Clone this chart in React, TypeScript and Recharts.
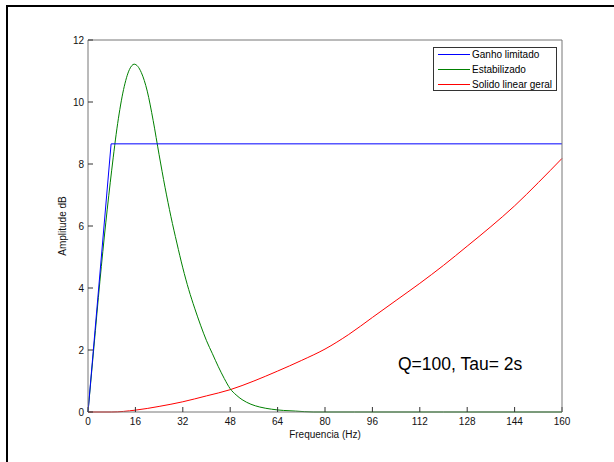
import React from 'react';
import { LineChart, Line, XAxis, YAxis, Legend } from 'recharts';

// eixo de frequência (Hz) e amplitude (dB)
const xTicks = [0, 16, 32, 48, 64, 80, 96, 112, 128, 144, 160];
const yTicks = [0, 2, 4, 6, 8, 10, 12];

// Ganho limitado
const ganhoFreq = [0, 7.8, 160];
const ganhoAmp = [0, 8.65, 8.65];

// Estabilizado
const estabFreq = [
  0, 2, 4, 6, 8, 10, 12, 14, 15.6, 18, 20, 22, 24, 26, 28, 30, 32, 34, 36, 38, 40,
  42, 44, 46, 48, 50, 52, 55, 58, 62, 66, 70, 76, 90, 120, 160,
];
const estabAmp = [
  0, 2.1, 4.2, 6.1, 7.8, 9.3, 10.4, 11.05, 11.22, 10.95, 10.35, 9.4, 8.3, 7.25, 6.3,
  5.45, 4.65, 3.95, 3.35, 2.8, 2.3, 1.88, 1.46, 1.08, 0.75, 0.55, 0.4, 0.25, 0.16,
  0.09, 0.05, 0.03, 0, 0, 0, 0,
];

// Solido linear geral
const solidoFreq = [
  0, 8, 16, 24, 32, 40, 48, 56, 64, 72, 80, 88, 96, 104, 112, 120, 128, 136, 144, 152, 160,
];
const solidoAmp = [
  0, 0, 0.06, 0.18, 0.33, 0.52, 0.72, 1.0, 1.32, 1.66, 2.03, 2.5, 3.05, 3.6, 4.15,
  4.73, 5.35, 5.98, 6.65, 7.4, 8.18,
];

const seriesNames = ['Ganho limitado', 'Estabilizado', 'Solido linear geral'];
const seriesColors = ['#0000ff', '#008000', '#ff0000'];

const toPoints = (xs: number[], ys: number[]) => xs.map((f, i) => ({ f, a: ys[i] }));

const FONT = '"Liberation Sans", Arial, sans-serif';
const AXIS = '#777';
const TICK = '#333';

const LegendBox = () => (
  <div
    style={{
      position: 'relative',
      width: 124,
      height: 44,
      boxSizing: 'border-box',
      border: '1px solid #333',
      background: '#fff',
      fontFamily: FONT,
      fontSize: 10,
      color: '#000',
    }}
  >
    {seriesNames.map((name, i) => (
      <div
        key={name}
        style={{ position: 'absolute', left: 0, top: i * 15, height: 14, width: 122 }}
      >
        <div
          style={{
            position: 'absolute',
            left: 4,
            top: 6,
            width: 32,
            height: 1,
            background: seriesColors[i],
          }}
        />
        <div style={{ position: 'absolute', left: 38, top: 0, lineHeight: '14px', whiteSpace: 'nowrap' }}>
          {name}
        </div>
      </div>
    ))}
  </div>
);

export default function App() {
  return (
    <div
      style={{
        position: 'absolute',
        left: 0,
        top: 0,
        width: 614,
        height: 462,
        background: '#fff',
        overflow: 'hidden',
      }}
    >
      <div
        style={{
          position: 'absolute',
          left: 6,
          top: 5,
          width: 640,
          height: 480,
          borderLeft: '2px solid #000',
          borderTop: '2px solid #000',
        }}
      />
      <LineChart
        width={614}
        height={462}
        margin={{ top: 39, right: 51, bottom: 20, left: 48 }}
        style={{ position: 'absolute', left: 0, top: 0 }}
      >
        <XAxis
          type="number"
          dataKey="f"
          domain={[0, 160]}
          ticks={xTicks}
          height={30}
          tickSize={-5}
          tickMargin={11}
          axisLine={{ stroke: AXIS }}
          tickLine={{ stroke: TICK }}
          tick={{ fontSize: 10, fill: '#111', fontFamily: FONT }}
          label={{
            value: 'Frequencia (Hz)',
            position: 'insideBottom',
            offset: 4,
            style: { fontSize: 10, fill: '#111', fontFamily: FONT },
          }}
        />
        <XAxis
          xAxisId="top"
          orientation="top"
          type="number"
          domain={[0, 160]}
          ticks={xTicks}
          height={1}
          tickSize={-5}
          tickFormatter={() => ''}
          axisLine={{ stroke: AXIS }}
          tickLine={{ stroke: TICK }}
        />
        <YAxis
          type="number"
          domain={[0, 12]}
          ticks={yTicks}
          width={40}
          tickSize={-5}
          tickMargin={9}
          axisLine={{ stroke: AXIS }}
          tickLine={{ stroke: TICK }}
          tick={{ fontSize: 10, fill: '#111', fontFamily: FONT }}
          label={{
            value: 'Amplitude dB',
            angle: -90,
            position: 'insideLeft',
            offset: 14,
            style: { fontSize: 10, fill: '#111', fontFamily: FONT, textAnchor: 'middle' },
          }}
        />
        <YAxis
          yAxisId="right"
          orientation="right"
          type="number"
          domain={[0, 12]}
          ticks={yTicks}
          width={1}
          tickSize={-5}
          tickFormatter={() => ''}
          axisLine={{ stroke: AXIS }}
          tickLine={{ stroke: TICK }}
        />
        <Legend
          layout="horizontal"
          verticalAlign="middle"
          align="center"
          wrapperStyle={{ left: 433, top: 47, width: 124, height: 44 }}
          content={() => <LegendBox />}
        />
        <Line
          data={toPoints(solidoFreq, solidoAmp)}
          dataKey="a"
          name={seriesNames[2]}
          type="monotone"
          stroke={seriesColors[2]}
          strokeWidth={1}
          dot={false}
          activeDot={false}
          isAnimationActive={false}
        />
        <Line
          data={toPoints(estabFreq, estabAmp)}
          dataKey="a"
          name={seriesNames[1]}
          type="monotone"
          stroke={seriesColors[1]}
          strokeWidth={1}
          dot={false}
          activeDot={false}
          isAnimationActive={false}
        />
        <Line
          data={toPoints(ganhoFreq, ganhoAmp)}
          dataKey="a"
          name={seriesNames[0]}
          type="linear"
          stroke={seriesColors[0]}
          strokeWidth={1}
          dot={false}
          activeDot={false}
          isAnimationActive={false}
        />
      </LineChart>
      <div
        style={{
          position: 'absolute',
          left: 398,
          top: 356,
          fontFamily: FONT,
          fontSize: 17.5,
          lineHeight: 1,
          color: '#000',
          whiteSpace: 'nowrap',
        }}
      >
        Q=100, Tau= 2s
      </div>
    </div>
  );
}
